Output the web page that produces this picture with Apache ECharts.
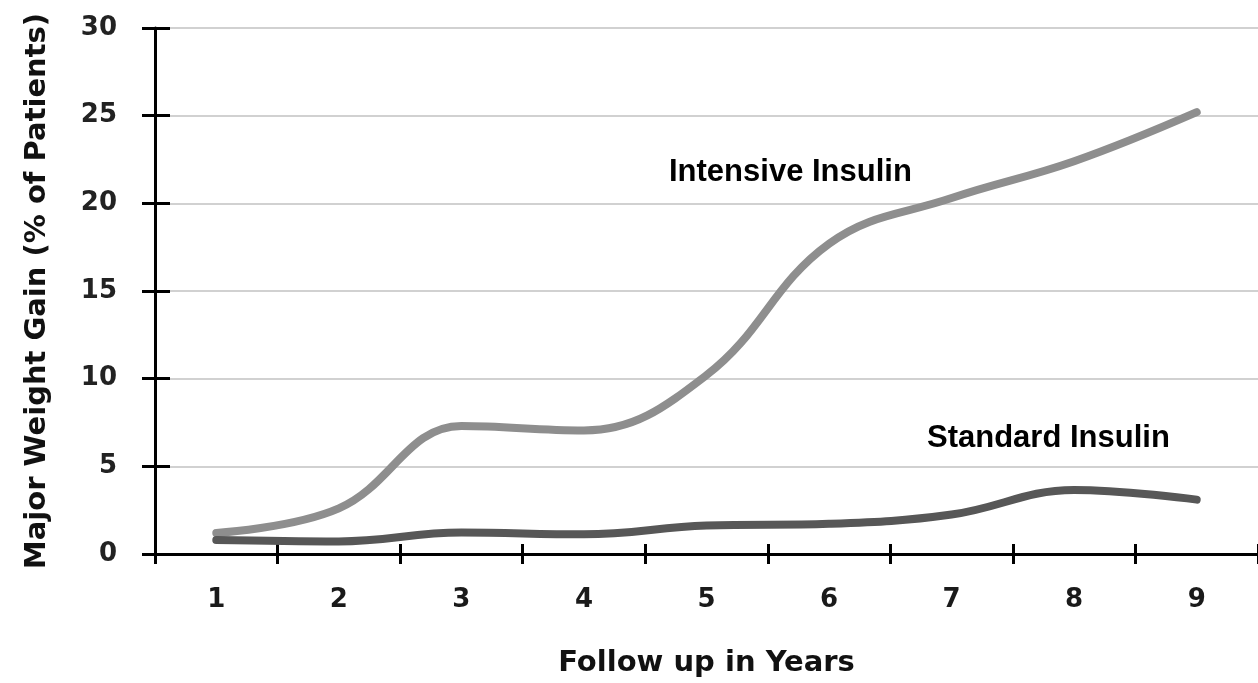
<!DOCTYPE html>
<html>
<head>
<meta charset="utf-8">
<script src="https://cdn.jsdelivr.net/npm/echarts@6/dist/echarts.min.js"></script>
<style>
html,body{margin:0;padding:0;background:#fff;}
#c{width:1258px;height:683px;}
</style>
</head>
<body>
<div id="c"></div>
<script>
const years = ['1','2','3','4','5','6','7','8','9'];
const intensive = [1.2, 2.6, 7.3, 7.05, 10.2, 17.7, 20.3, 22.4, 25.2];
const standard = [0.8, 0.72, 1.22, 1.12, 1.62, 1.72, 2.25, 3.65, 3.1];
const yTicks = { min: 0, max: 30, interval: 5 };

const chart = echarts.init(document.getElementById('c'), null, { renderer: 'canvas' });
const fontH = 'DejaVu Sans';
const axisBlack = { color: '#000', width: 3 };

chart.setOption({
  backgroundColor: '#ffffff',
  animation: false,
  grid: { left: 155, right: 0, top: 28, bottom: 126, containLabel: false },
  xAxis: [
    {
      type: 'category', data: years, position: 'bottom', boundaryGap: true,
      name: 'Follow up in Years', nameLocation: 'middle', nameGap: 95,
      nameTextStyle: { fontFamily: fontH, fontWeight: 'bold', fontSize: 29, color: '#111' },
      axisLine: { show: true, lineStyle: axisBlack },
      axisTick: { show: true, inside: false, length: 10, lineStyle: axisBlack },
      axisLabel: { margin: 33, fontFamily: fontH, fontWeight: 'bold', fontSize: 26, color: '#1a1a1a' },
      splitLine: { show: false }
    },
    {
      type: 'category', data: years, position: 'bottom', boundaryGap: true, offset: 0,
      axisLine: { show: false },
      axisTick: { show: true, inside: true, length: 10, lineStyle: axisBlack },
      axisLabel: { show: false },
      splitLine: { show: false }
    }
  ],
  yAxis: [
    {
      type: 'value', position: 'left', min: yTicks.min, max: yTicks.max, interval: yTicks.interval,
      name: 'Major Weight Gain (% of Patients)', nameLocation: 'middle', nameGap: 103,
      nameTextStyle: { fontFamily: fontH, fontWeight: 'bold', fontSize: 29, color: '#111' },
      axisLine: { show: true, lineStyle: axisBlack },
      axisTick: { show: true, inside: false, length: 13, lineStyle: axisBlack },
      axisLabel: { margin: 38, fontFamily: fontH, fontWeight: 'bold', fontSize: 26, color: '#222' },
      splitLine: { show: true, lineStyle: { color: '#c2c2c2', width: 1.5 } }
    },
    {
      type: 'value', position: 'left', offset: 0, min: yTicks.min, max: yTicks.max, interval: yTicks.interval,
      axisLine: { show: false },
      axisTick: { show: true, inside: true, length: 15, lineStyle: axisBlack },
      axisLabel: { show: false },
      splitLine: { show: false }
    }
  ],
  series: [
    {
      name: 'Intensive Insulin', type: 'line', data: intensive, smooth: 0.4,
      xAxisIndex: 0, yAxisIndex: 0, showSymbol: false, symbol: 'none',
      lineStyle: { color: '#8e8e8e', width: 8, cap: 'round', join: 'round' }
    },
    {
      name: 'Standard Insulin', type: 'line', data: standard, smooth: 0.4,
      xAxisIndex: 0, yAxisIndex: 0, showSymbol: false, symbol: 'none',
      lineStyle: { color: '#575757', width: 8, cap: 'round', join: 'round' }
    }
  ],
  graphic: [
    { type: 'text', x: 669, y: 172, style: { text: 'Intensive Insulin', font: 'bold 31px "Liberation Sans"', fill: '#000', verticalAlign: 'middle' } },
    { type: 'text', x: 927, y: 438, style: { text: 'Standard Insulin', font: 'bold 31px "Liberation Sans"', fill: '#000', verticalAlign: 'middle' } }
  ]
});
</script>
</body>
</html>
